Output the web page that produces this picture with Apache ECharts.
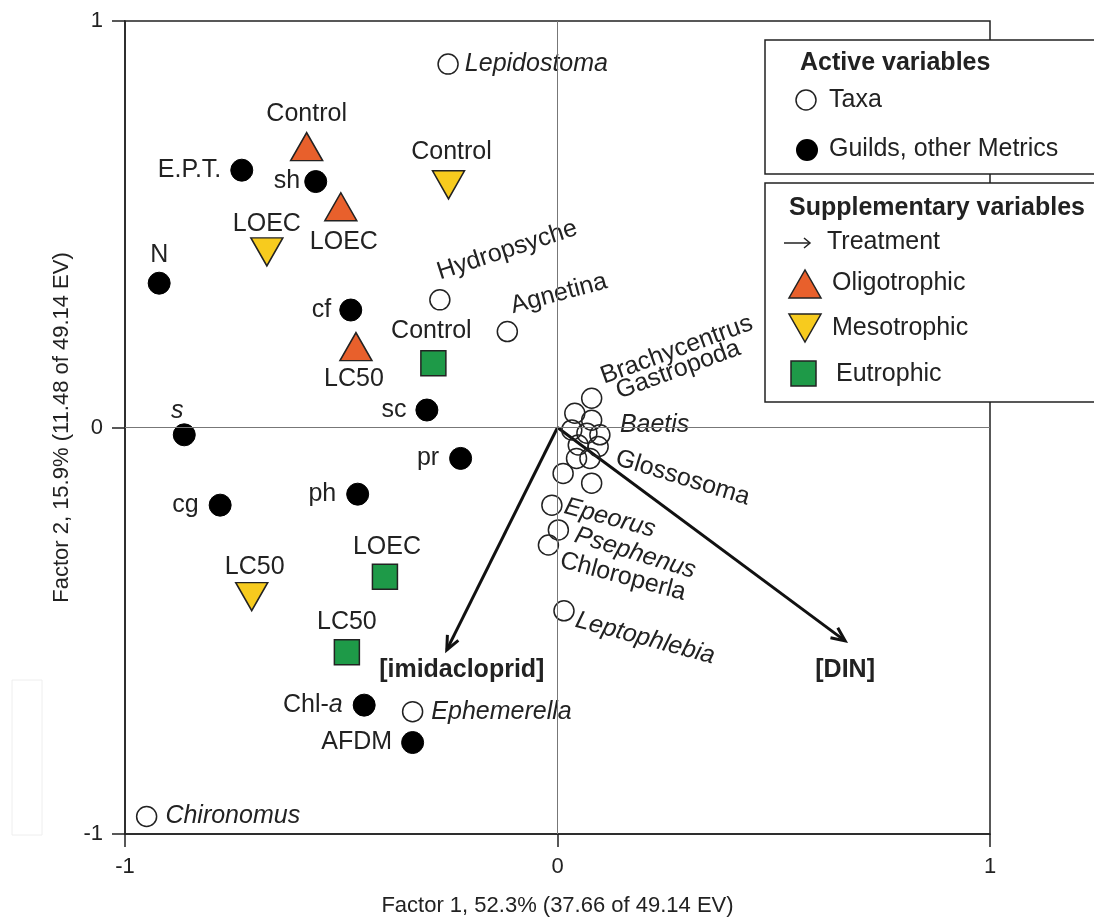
<!DOCTYPE html>
<html>
<head>
<meta charset="utf-8">
<script src="https://cdn.jsdelivr.net/npm/echarts@6/dist/echarts.min.js"></script>
<style>
html,body{margin:0;padding:0;background:#fff;}
#c{width:1094px;height:920px;}
</style>
</head>
<body>
<div id="c"></div>
<script>
// ---------- DATA ----------
const taxaNames = ['Lepidostoma','Hydropsyche','Agnetina','Brachycentrus','Gastropoda','','','','Baetis','','Glossosoma','','','','','Epeorus','Psephenus','Chloroperla','Leptophlebia','Ephemerella','Chironomus'];
const taxaX = [-0.253,-0.272,-0.116,0.079,0.040,0.079,0.033,0.068,0.098,0.048,0.094,0.044,0.075,0.013,0.079,-0.013,0.002,-0.021,0.015,-0.335,-0.950];
const taxaY = [0.894,0.314,0.236,0.072,0.035,0.018,-0.006,-0.014,-0.018,-0.043,-0.047,-0.076,-0.076,-0.113,-0.137,-0.191,-0.252,-0.289,-0.451,-0.699,-0.957];

const guildNames = ['E.P.T.','sh','N','cf','sc','s','pr','ph','cg','Chl-a','AFDM'];
const guildX = [-0.730,-0.559,-0.921,-0.478,-0.302,-0.863,-0.224,-0.462,-0.780,-0.447,-0.335];
const guildY = [0.633,0.605,0.355,0.289,0.043,-0.018,-0.076,-0.164,-0.191,-0.683,-0.775];

const treatmentLabels = ['Control','LOEC','LC50'];
const oligoX = [-0.580,-0.501,-0.466];
const oligoY = [0.691,0.543,0.199];
const mesoX = [-0.252,-0.672,-0.707];
const mesoY = [0.597,0.432,-0.416];
const eutroX = [-0.287,-0.399,-0.487];
const eutroY = [0.158,-0.367,-0.553];

const vectorNames = ['[imidacloprid]','[DIN]'];
const vectorX = [-0.256,0.665];
const vectorY = [-0.547,-0.525];

const axisTicks = [-1,0,1];
const xTitle = 'Factor 1, 52.3% (37.66 of 49.14 EV)';
const yTitle = 'Factor 2, 15.9% (11.48 of 49.14 EV)';

// ---------- STYLE / PLACEMENT ----------
const FONT = "'Liberation Sans', Arial, sans-serif";
const TXT = '#222';
const LFS = 25;   // label font size
const GFS = 25;   // legend font size
const taxaLabelCfg = {
  'Lepidostoma':{pos:'right',dist:6,italic:true},
  'Hydropsyche':{off:[-2,-27],rot:18},
  'Agnetina':{off:[4,-25],rot:15},
  'Brachycentrus':{off:[10,-21],rot:20},
  'Gastropoda':{off:[42,-21],rot:20},
  'Baetis':{off:[20,-10],italic:true},
  'Glossosoma':{off:[18,11],rot:-17},
  'Epeorus':{off:[13,1],rot:-15,italic:true},
  'Psephenus':{off:[17,5],rot:-17,italic:true},
  'Chloroperla':{off:[12,15],rot:-15},
  'Leptophlebia':{off:[12,9],rot:-15,italic:true},
  'Ephemerella':{pos:'right',dist:8,italic:true},
  'Chironomus':{pos:'right',dist:8,italic:true}
};
const guildLabelCfg = {
  'E.P.T.':{pos:'left',dist:9},
  'sh':{pos:'left',dist:4},
  'N':{pos:'top',dist:4},
  'cf':{pos:'left',dist:8},
  'sc':{pos:'left',dist:9},
  's':{off:[-7,-24],center:true,italic:true},
  'pr':{pos:'left',dist:10},
  'ph':{pos:'left',dist:10},
  'cg':{pos:'left',dist:10},
  'Chl-a':{pos:'left',dist:10,rich:true},
  'AFDM':{pos:'left',dist:9}
};
const oligoOff = [[0,-32],[3,35],[-2,33]];
const mesoOff = [[3,-33],[0,-28],[3,-29]];
const eutroOff = [[-2,-32],[2,-30],[0,-30]];
const vecLabelOff = [[15,20],[0,29]];

// ECharts rotates the label offset together with the text (about the symbol centre),
// so convert a wanted screen offset into the pre-rotation offset.
function unrotate(d, deg){
  const t = deg*Math.PI/180, c=Math.cos(t), s=Math.sin(t);
  return [d[0]*c - d[1]*s, d[0]*s + d[1]*c];
}

function labelFor(name, cfg){
  if(!cfg) return {show:false};
  const base = {show:true, color:TXT, fontSize:LFS, fontFamily:FONT, formatter:name};
  if(cfg.italic) base.fontStyle='italic';
  if(cfg.rich){
    base.formatter = 'Chl-{i|a}';
    base.rich = {i:{fontStyle:'italic',fontSize:LFS,fontFamily:FONT,color:TXT}};
  }
  if(cfg.pos){ base.position=cfg.pos; base.distance=cfg.dist; }
  else {
    base.position='inside';
    base.align = cfg.center ? 'center' : 'left';
    base.verticalAlign='middle';
    if(cfg.rot){ base.rotate=cfg.rot; base.offset=unrotate(cfg.off,cfg.rot); }
    else base.offset=cfg.off;
  }
  return base;
}

const taxaData = taxaX.map((x,i)=>({value:[x,taxaY[i]], label:labelFor(taxaNames[i], taxaLabelCfg[taxaNames[i]])}));
const guildData = guildX.map((x,i)=>({value:[x,guildY[i]], label:labelFor(guildNames[i], guildLabelCfg[guildNames[i]])}));
function trtData(xs,ys,offs){
  return xs.map((x,i)=>({value:[x,ys[i]], label:{show:true,position:'inside',offset:offs[i],align:'center',verticalAlign:'middle',formatter:treatmentLabels[i],color:TXT,fontSize:LFS,fontFamily:FONT}}));
}
const vectorData = vectorX.map((x,i)=>[0,0,x,vectorY[i],i]);

const chart = echarts.init(document.getElementById('c'));

const axisCommon = {
  type:'value', min:-1, max:1, interval:1,
  axisLine:{show:true,onZero:false,lineStyle:{color:'#222',width:1.5}},
  axisTick:{show:true,length:13,lineStyle:{color:'#222',width:1.5}},
  splitLine:{show:false},
  axisLabel:{color:TXT,fontSize:22,fontFamily:FONT,margin:22,formatter:v=>axisTicks.includes(v)?String(v):''},
  nameLocation:'middle',
  nameTextStyle:{color:TXT,fontSize:22,fontFamily:FONT}
};

function legendTri(cx,cy,down,fill){
  const w=16,h=14;
  const pts = down ? [[cx-w,cy-h],[cx+w,cy-h],[cx,cy+h]] : [[cx-w,cy+h],[cx+w,cy+h],[cx,cy-h]];
  return {type:'polygon',z:11,shape:{points:pts},style:{fill:fill,stroke:'#222',lineWidth:1.5}};
}
function legendText(x,y,t,bold){
  return {type:'text',z:11,x:x,y:y,style:{text:t,fill:TXT,font:(bold?'bold ':'')+GFS+'px '+FONT,verticalAlign:'middle',align:'left'}};
}

const itemBase = {opacity:1};

chart.setOption({
  animation:false,
  grid:{left:125,right:104,top:21,bottom:86,outerBoundsMode:'none',containLabel:false,show:true,borderColor:'#222',borderWidth:1.5,backgroundColor:'transparent'},
  xAxis:Object.assign({},axisCommon,{name:xTitle,nameGap:61}),
  yAxis:Object.assign({},axisCommon,{name:yTitle,nameGap:52}),
  series:[
    {type:'scatter',name:'zero',data:[],z:1,
     markLine:{silent:true,symbol:'none',label:{show:false},animation:false,
       lineStyle:{color:'#777',width:1,type:'solid',opacity:1},
       data:[{xAxis:0},{yAxis:0}]}},
    {type:'custom',name:'Treatment',z:3,data:vectorData,
     renderItem:function(params,api){
       const p0=api.coord([api.value(0),api.value(1)]);
       const p1=api.coord([api.value(2),api.value(3)]);
       const idx=api.value(4);
       const ang=Math.atan2(p1[1]-p0[1],p1[0]-p0[0]);
       const L=15, a=0.42;
       const h1=[p1[0]-L*Math.cos(ang-a),p1[1]-L*Math.sin(ang-a)];
       const h2=[p1[0]-L*Math.cos(ang+a),p1[1]-L*Math.sin(ang+a)];
       const off=vecLabelOff[idx];
       return {type:'group',children:[
         {type:'line',shape:{x1:p0[0],y1:p0[1],x2:p1[0],y2:p1[1]},style:{stroke:'#111',lineWidth:3}},
         {type:'polyline',shape:{points:[h1,p1,h2]},style:{stroke:'#111',lineWidth:3,fill:null}},
         {type:'text',x:p1[0]+off[0],y:p1[1]+off[1],style:{text:vectorNames[idx],fill:TXT,font:'bold '+LFS+'px '+FONT,align:'center',verticalAlign:'middle'}}
       ]};
     }},
    {type:'scatter',name:'Taxa',z:4,symbol:'circle',symbolSize:20,data:taxaData,
     itemStyle:Object.assign({color:'rgba(255,255,255,0)',borderColor:'#222',borderWidth:1.5},itemBase)},
    {type:'scatter',name:'Guilds',z:4,symbol:'circle',symbolSize:22,data:guildData,
     itemStyle:Object.assign({color:'#000',borderColor:'#000',borderWidth:1},itemBase)},
    {type:'scatter',name:'Oligotrophic',z:5,symbol:'triangle',symbolSize:[32,28],data:trtData(oligoX,oligoY,oligoOff),
     itemStyle:Object.assign({color:'#E8602C',borderColor:'#222',borderWidth:1.5},itemBase)},
    {type:'scatter',name:'Mesotrophic',z:5,symbol:'triangle',symbolRotate:180,symbolSize:[32,28],data:trtData(mesoX,mesoY,mesoOff),
     itemStyle:Object.assign({color:'#F7CB1E',borderColor:'#222',borderWidth:1.5},itemBase)},
    {type:'scatter',name:'Eutrophic',z:5,symbol:'rect',symbolSize:[25,25],data:trtData(eutroX,eutroY,eutroOff),
     itemStyle:Object.assign({color:'#1E9A48',borderColor:'#222',borderWidth:1.5},itemBase)}
  ],
  graphic:[
    {type:'rect',z:1,shape:{x:12,y:680,width:30,height:155},style:{fill:'none',stroke:'#eee',lineWidth:1}},
    {type:'rect',z:10,shape:{x:765,y:40,width:340,height:134},style:{fill:'#fff',stroke:'#222',lineWidth:1.5}},
    {type:'rect',z:10,shape:{x:765,y:183,width:340,height:219},style:{fill:'#fff',stroke:'#222',lineWidth:1.5}},
    legendText(800,63,'Active variables',true),
    {type:'circle',z:11,shape:{cx:806,cy:100,r:10},style:{fill:'none',stroke:'#222',lineWidth:1.5}},
    legendText(829,100,'Taxa',false),
    {type:'circle',z:11,shape:{cx:807,cy:150,r:11},style:{fill:'#000'}},
    legendText(829,149,'Guilds, other Metrics',false),
    legendText(789,208,'Supplementary variables',true),
    {type:'line',z:11,shape:{x1:784,y1:243,x2:810,y2:243},style:{stroke:'#222',lineWidth:1.5}},
    {type:'polyline',z:11,shape:{points:[[804,238],[810,243],[804,248]]},style:{stroke:'#222',lineWidth:1.5,fill:null}},
    legendText(827,242,'Treatment',false),
    legendTri(805,284,false,'#E8602C'),
    legendText(832,283,'Oligotrophic',false),
    legendTri(805,328,true,'#F7CB1E'),
    legendText(832,328,'Mesotrophic',false),
    {type:'rect',z:11,shape:{x:791,y:361,width:25,height:25},style:{fill:'#1E9A48',stroke:'#222',lineWidth:1.5}},
    legendText(836,374,'Eutrophic',false)
  ]
});
</script>
</body>
</html>
